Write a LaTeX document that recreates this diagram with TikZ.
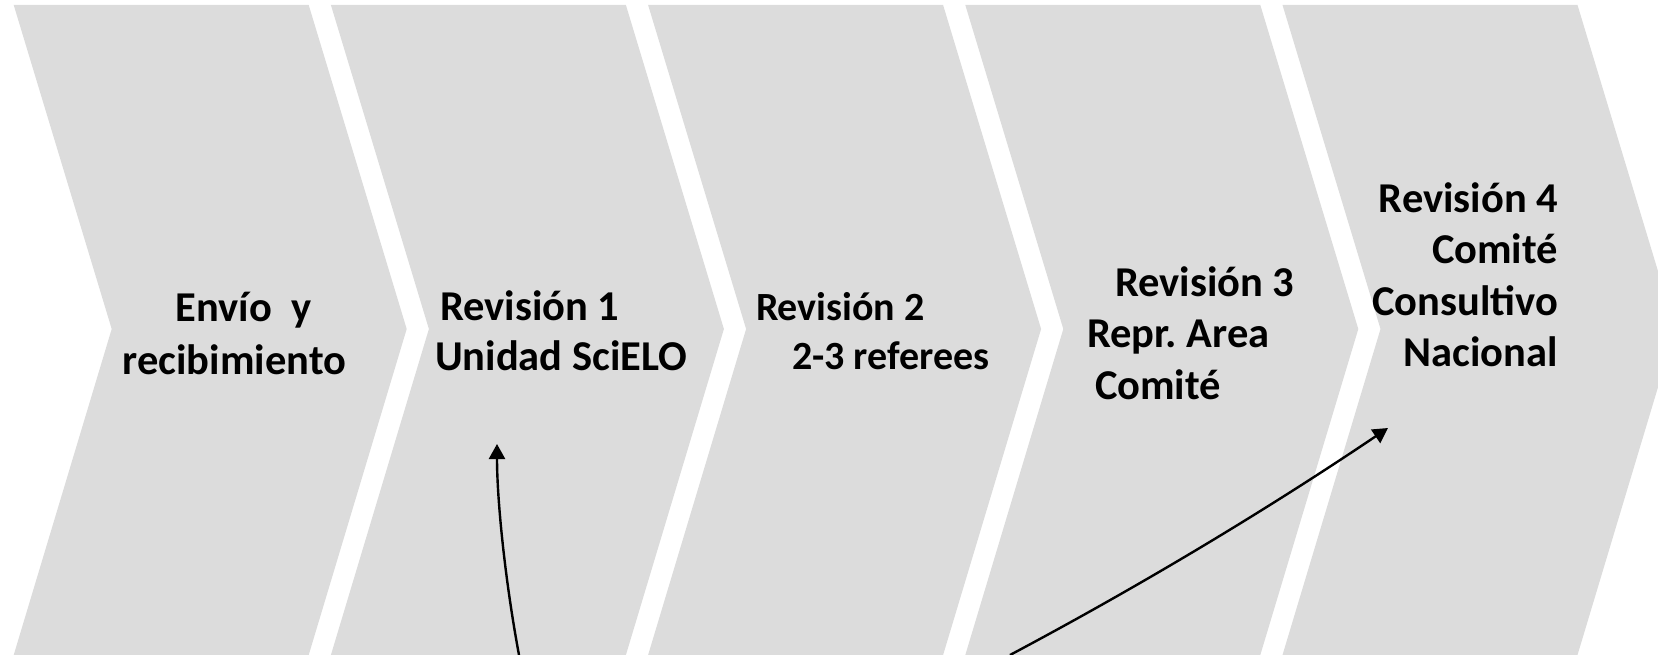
\documentclass[tikz,border=0pt]{standalone}
\usepackage{fontspec}
\setmainfont{Carlito}
\usetikzlibrary{arrows.meta}
\definecolor{chev}{RGB}{220,220,220}
\frenchspacing
\tikzset{
  chevfill/.style={fill=chev, draw=none},
  lbl/.style={inner sep=0pt, outer sep=0pt, font=\bfseries\fontsize{42.5}{50}\selectfont},
  lblsmall/.style={lbl, font=\bfseries\fontsize{40}{48}\selectfont},
  flowarrow/.style={line width=2.4pt, -{Triangle[length=15pt,width=16pt]}}
}
\begin{document}
\begin{tikzpicture}[x=1pt,y=-1pt]
\useasboundingbox (0,0) rectangle (1658,655);
\begin{scope}
\clip (0,0) rectangle (1658,655);
\foreach \i in {0,...,4}{
  \pgfmathsetmacro{\xo}{13.7+317.2*\i}
  \fill[chevfill] (\xo,5) -- (\xo+295,5) -- (\xo+393,329) -- (\xo+295,655) -- (\xo,655) -- (\xo+98,329) -- cycle;
}
\end{scope}
% chevron 1
\node[lbl, anchor=base west] (t1a) at (175.5,321) {Envío~~y};
\node[lbl, anchor=base west] (t1b) at (122.7,374) {recibimiento};
% chevron 2
\node[lbl, anchor=base west] (t2a) at (440,320) {Revisión 1};
\node[lbl, anchor=base west] (t2b) at (435,370) {Unidad SciELO};
% chevron 3
\node[lblsmall, anchor=base west] (t3a) at (756,320) {Revisión 2};
\node[lblsmall, anchor=base west] (t3b) at (792,369) {2-3 referees};
% chevron 4
\node[lbl, anchor=base west] (t4a) at (1115,296) {Revisión 3};
\node[lbl, anchor=base west] (t4b) at (1087,347) {Repr. Area};
\node[lbl, anchor=base west] (t4c) at (1095,399) {Comité};
% chevron 5
\node[lbl, anchor=base east] (t5a) at (1558,213) {Revisión 4};
\node[lbl, anchor=base east] (t5b) at (1558,264) {Comité};
\node[lbl, anchor=base east] (t5c) at (1558,315) {Consultivo};
\node[lbl, anchor=base east] (t5d) at (1558,366) {Nacional};
% arrows
\coordinate (a1s) at (519,655);
\coordinate (a1e) at (497,444);
\coordinate (a2s) at (1010,655);
\coordinate (a2e) at (1388,428);
\draw[flowarrow] (a1s) .. controls (505,580) and (497,500) .. (a1e);
\draw[flowarrow] (a2s) .. controls (1136,588) and (1262,513) .. (a2e);
\end{tikzpicture}
\end{document}
